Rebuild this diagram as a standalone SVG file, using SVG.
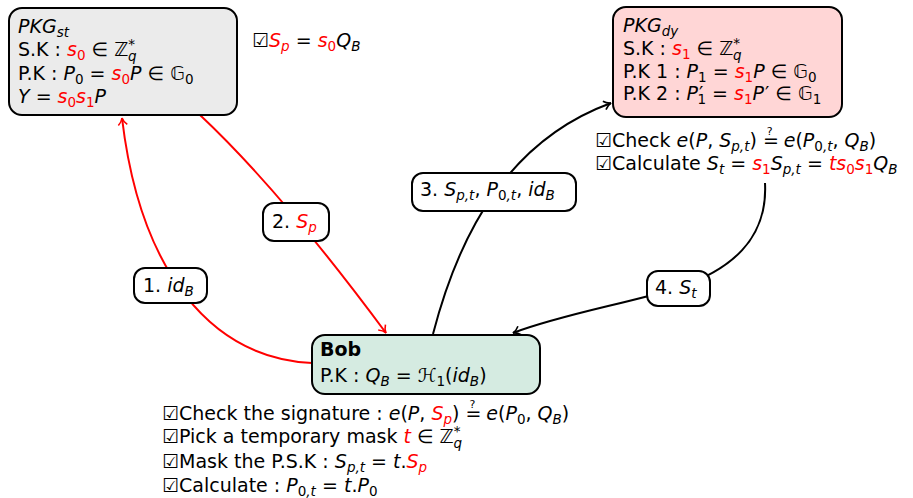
<svg xmlns="http://www.w3.org/2000/svg" width="913" height="498" viewBox="0 0 913 498">
<style>
text{font-family:"DejaVu Sans",sans-serif;font-size:19px;fill:#000}
.i{font-style:italic}
.r{fill:#ff0000}
.s{font-size:13.5px}
.q{font-size:11px}
.box{stroke:#000;stroke-width:2}
.lbl{fill:#fff;stroke:#000;stroke-width:2}
.e{fill:none;stroke-width:2}
.red{stroke:#ff0000}
.blk{stroke:#000}
</style>
<defs>
<marker id="ar" markerWidth="12" markerHeight="12" refX="9" refY="6" orient="auto" markerUnits="userSpaceOnUse"><path d="M2,1.5 Q5,5 9,6 Q5,7 2,10.5" fill="none" stroke="#ff0000" stroke-width="1.6"/></marker>
<marker id="ab" markerWidth="12" markerHeight="12" refX="9" refY="6" orient="auto" markerUnits="userSpaceOnUse"><path d="M2,1.5 Q5,5 9,6 Q5,7 2,10.5" fill="none" stroke="#000" stroke-width="1.6"/></marker>
</defs>

<g id="connectors">
<path class="e red" d="M312,363 C210,358 140,270 122,118" marker-end="url(#ar)"/>
<path class="e red" d="M200,115 Q280,190 386,333" marker-end="url(#ar)"/>
<path class="e blk" d="M433,334 C460,230 510,140 611,103" marker-end="url(#ab)"/>
<path class="e blk" d="M765,183 C768,240 730,270 678,288 C620,305 560,315 513,333" marker-end="url(#ab)"/>
</g>

<g id="pkg_st">
<rect class="box" x="9" y="8" width="228" height="107" rx="13" fill="#ebebeb"/>
<text x="18" y="33"><tspan class="i">PKG</tspan><tspan class="i s" dy="4">st</tspan></text>
<text x="18" y="56">S.K : <tspan class="i r">s</tspan><tspan class="r s" dy="4">0</tspan><tspan dy="-4"> ∈ ℤ</tspan><tspan class="s" dy="-7">*</tspan><tspan class="s i" dx="-7" dy="12">q</tspan></text>
<text x="18" y="80">P.K : <tspan class="i">P</tspan><tspan class="s" dy="4">0</tspan><tspan dy="-4"> = </tspan><tspan class="i r">s</tspan><tspan class="r s" dy="4">0</tspan><tspan class="i" dy="-4">P</tspan><tspan> ∈ 𝔾</tspan><tspan class="s" dy="4">0</tspan></text>
<text x="18" y="103"><tspan class="i">Y</tspan><tspan> = </tspan><tspan class="i r">s</tspan><tspan class="r s" dy="4">0</tspan><tspan class="i r" dy="-4">s</tspan><tspan class="r s" dy="4">1</tspan><tspan class="i" dy="-4">P</tspan></text>
</g>

<g id="note_sp">
<text x="252" y="47"><tspan>☑</tspan><tspan class="i r">S</tspan><tspan class="i r s" dy="4">p</tspan><tspan dy="-4"> = </tspan><tspan class="i r">s</tspan><tspan class="r s" dy="4">0</tspan><tspan class="i" dy="-4">Q</tspan><tspan class="i s" dy="4">B</tspan></text>
</g>

<g id="pkg_dy">
<rect class="box" x="613" y="7" width="229" height="110" rx="13" fill="#ffd6d6"/>
<text x="623" y="32"><tspan class="i">PKG</tspan><tspan class="i s" dy="4">dy</tspan></text>
<text x="623" y="55">S.K : <tspan class="i r">s</tspan><tspan class="r s" dy="4">1</tspan><tspan dy="-4"> ∈ ℤ</tspan><tspan class="s" dy="-7">*</tspan><tspan class="s i" dx="-7" dy="12">q</tspan></text>
<text x="623" y="78">P.K 1 : <tspan class="i">P</tspan><tspan class="s" dy="4">1</tspan><tspan dy="-4"> = </tspan><tspan class="i r">s</tspan><tspan class="r s" dy="4">1</tspan><tspan class="i" dy="-4">P</tspan><tspan> ∈ 𝔾</tspan><tspan class="s" dy="4">0</tspan></text>
<text x="623" y="100">P.K 2 : <tspan class="i">P</tspan><tspan dx="1">′</tspan><tspan class="s" dx="-6" dy="4">1</tspan><tspan dy="-4"> = </tspan><tspan class="i r">s</tspan><tspan class="r s" dy="4">1</tspan><tspan class="i" dy="-4">P</tspan><tspan dx="1">′ ∈ 𝔾</tspan><tspan class="s" dy="4">1</tspan></text>
</g>

<g id="note_dy">
<text x="595" y="147">☑Check <tspan class="i">e</tspan>(<tspan class="i">P</tspan>, <tspan class="i">S</tspan><tspan class="i s" dy="4">p,t</tspan><tspan dy="-4">) =</tspan><tspan class="q" dx="-12" dy="-12">?</tspan><tspan dx="5" dy="12"> </tspan><tspan class="i">e</tspan>(<tspan class="i">P</tspan><tspan class="s" dy="4">0</tspan><tspan class="i s">,t</tspan><tspan dy="-4">, </tspan><tspan class="i">Q</tspan><tspan class="i s" dy="4">B</tspan><tspan dy="-4">)</tspan></text>
<text x="595" y="170">☑Calculate <tspan class="i">S</tspan><tspan class="i s" dy="4">t</tspan><tspan dy="-4"> = </tspan><tspan class="i r">s</tspan><tspan class="r s" dy="4">1</tspan><tspan class="i" dy="-4">S</tspan><tspan class="i s" dy="4">p,t</tspan><tspan dy="-4"> = </tspan><tspan class="i r">ts</tspan><tspan class="r s" dy="4">0</tspan><tspan class="i r" dy="-4">s</tspan><tspan class="r s" dy="4">1</tspan><tspan class="i" dy="-4">Q</tspan><tspan class="i s" dy="4">B</tspan></text>
</g>

<g id="bob">
<rect class="box" x="312" y="335" width="228" height="59" rx="13" fill="#d5ebe1"/>
<text x="320" y="356" font-weight="bold">Bob</text>
<text x="320" y="382">P.K : <tspan class="i">Q</tspan><tspan class="i s" dy="4">B</tspan><tspan dy="-4"> = ℋ</tspan><tspan class="s" dy="4">1</tspan><tspan dy="-4">(</tspan><tspan class="i">id</tspan><tspan class="i s" dy="4">B</tspan><tspan dy="-4">)</tspan></text>
</g>

<g id="note_bob">
<text x="162" y="420">☑Check the signature : <tspan class="i">e</tspan>(<tspan class="i">P</tspan>, <tspan class="i r">S</tspan><tspan class="i r s" dy="4">p</tspan><tspan dy="-4">) =</tspan><tspan class="q" dx="-12" dy="-12">?</tspan><tspan dx="5" dy="12"> </tspan><tspan class="i">e</tspan>(<tspan class="i">P</tspan><tspan class="s" dy="4">0</tspan><tspan dy="-4">, </tspan><tspan class="i">Q</tspan><tspan class="i s" dy="4">B</tspan><tspan dy="-4">)</tspan></text>
<text x="162" y="443">☑Pick a temporary mask <tspan class="i r">t</tspan> ∈ ℤ<tspan class="s" dy="-7">*</tspan><tspan class="s i" dx="-7" dy="12">q</tspan></text>
<text x="162" y="468">☑Mask the P.S.K : <tspan class="i">S</tspan><tspan class="i s" dy="4">p,t</tspan><tspan dy="-4"> = </tspan><tspan class="i">t</tspan>.<tspan class="i r">S</tspan><tspan class="i r s" dy="4">p</tspan></text>
<text x="162" y="492">☑Calculate : <tspan class="i">P</tspan><tspan class="s" dy="4">0</tspan><tspan class="i s">,t</tspan><tspan dy="-4"> = </tspan><tspan class="i">t</tspan>.<tspan class="i">P</tspan><tspan class="s" dy="4">0</tspan></text>
</g>

<g id="label1">
<rect class="lbl" x="134" y="268" width="73" height="35" rx="11"/>
<text x="143" y="292">1. <tspan class="i">id</tspan><tspan class="i s" dy="4">B</tspan></text>
</g>
<g id="label2">
<rect class="lbl" x="263" y="203" width="66" height="38" rx="11"/>
<text x="272" y="228">2. <tspan class="i r">S</tspan><tspan class="i r s" dy="4">p</tspan></text>
</g>
<g id="label3">
<rect class="lbl" x="412" y="173" width="164" height="38" rx="11"/>
<text x="420" y="196">3. <tspan class="i">S</tspan><tspan class="i s" dy="4">p,t</tspan><tspan dy="-4">, </tspan><tspan class="i">P</tspan><tspan class="s" dy="4">0</tspan><tspan class="i s">,t</tspan><tspan dy="-4">, </tspan><tspan class="i">id</tspan><tspan class="i s" dy="4">B</tspan></text>
</g>
<g id="label4">
<rect class="lbl" x="647" y="271" width="63" height="35" rx="11"/>
<text x="655" y="294">4. <tspan class="i">S</tspan><tspan class="i s" dy="4">t</tspan></text>
</g>
</svg>
